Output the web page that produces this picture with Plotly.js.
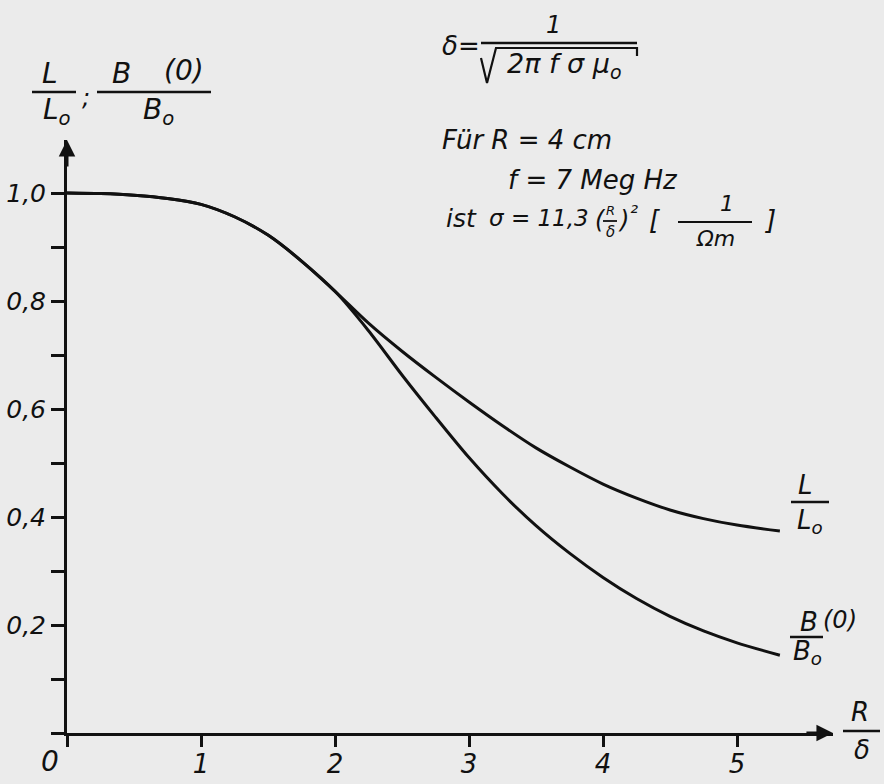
<!DOCTYPE html>
<html><head><meta charset="utf-8">
<script src="https://cdn.plot.ly/plotly-3.0.1.min.js"></script>
<style>html,body{margin:0;padding:0;background:#ebebeb;}</style>
</head><body>
<div id="chart" style="width:884px;height:784px;"></div>
<script>
// ---- data ----
const ratio = [0, 0.25, 0.5, 0.75, 1.0, 1.25, 1.5, 1.75, 2.0, 2.25, 2.5, 2.75, 3.0, 3.25, 3.5, 3.75, 4.0, 4.25, 4.5, 4.75, 5.0, 5.32];
const lRatio = [1.000, 0.999, 0.996, 0.990, 0.979, 0.956, 0.922, 0.874, 0.818, 0.759, 0.707, 0.659, 0.613, 0.569, 0.528, 0.493, 0.461, 0.435, 0.413, 0.397, 0.385, 0.374];
const bRatio = [1.000, 0.999, 0.996, 0.990, 0.979, 0.956, 0.922, 0.874, 0.818, 0.745, 0.663, 0.585, 0.510, 0.443, 0.384, 0.333, 0.288, 0.249, 0.216, 0.189, 0.167, 0.144];
const xTickVals = [0, 1, 2, 3, 4, 5];
const xTickText = ['', '1', '2', '3', '4', '5'];
const yTickVals = [0, 0.2, 0.4, 0.6, 0.8, 1.0];
const yTickText = ['', '0,2', '0,4', '0,6', '0,8', '1,0'];

// ---- layout helpers ----
const W = 884, H = 784, PL = 67, PR = 833, PT = 140, PB = 733;
const fx = x => (x - PL) / (PR - PL);
const fy = y => (PB - y) / (PB - PT);
const FONT = 'DejaVu Sans';
const INK = '#111111';
function txt(t, x, y, size, anchor) {
  return {text: t, x: fx(x), y: fy(y), xref: 'paper', yref: 'paper', showarrow: false,
    xanchor: anchor || 'center', yanchor: 'middle',
    font: {family: FONT, size: size || 26, color: INK, style: 'italic'}};
}
function bar(x0, x1, y, w) {
  return {type: 'line', xref: 'paper', yref: 'paper', x0: fx(x0), x1: fx(x1), y0: fy(y), y1: fy(y),
    line: {color: INK, width: w || 2.5}};
}

const common = {mode: 'lines', line: {color: INK, width: 3, shape: 'spline', smoothing: 0.8}, hoverinfo: 'skip', showlegend: false};
const traces = [
  Object.assign({x: ratio, y: lRatio, name: 'L/L0'}, common),
  Object.assign({x: ratio, y: bRatio, name: 'B(0)/B0'}, common)
];

const annotations = [
  // y-axis title
  txt('L', 50, 74, 28), txt('L<sub>o</sub>', 57, 112, 28), txt(';', 86, 98, 24),
  txt('B', 121, 74, 28), txt('(0)', 184, 70, 28), txt('B<sub>o</sub>', 158, 112, 28),
  // formula
  txt('δ=', 461, 46, 26), txt('1', 553, 25, 24), txt('2π f σ μ<sub>o</sub>', 564, 66, 27),
  txt('Für R = 4 cm', 440, 140, 26, 'left'),
  txt('f = 7 Meg Hz', 506, 180, 26, 'left'),
  txt('ist', 444, 218, 25, 'left'),
  txt('σ = 11,3', 487, 218, 23, 'left'),
  txt('(', 600, 220, 24),
  txt('R', 610, 210, 13), txt('δ', 610, 232, 15),
  txt(')', 623, 220, 24), txt('²', 634, 213, 20),
  txt('[', 654, 220, 26), txt('1', 727, 203, 22), txt('Ωm', 715, 239, 22), txt(']', 770, 220, 26),
  // curve labels
  txt('L', 805, 485, 26), txt('L<sub>o</sub>', 810, 521, 26),
  txt('B', 809, 622, 26), txt('(0)', 840, 620, 24), txt('B<sub>o</sub>', 807, 652, 26),
  // x-axis label
  txt('R', 860, 712, 26), txt('δ', 862, 750, 26),
  // origin
  txt('0', 50, 761, 28),
  // axis arrows
  {x: 5.716, y: 0, ax: -28, ay: 0, xref: 'x', yref: 'y', text: '', showarrow: true,
   arrowhead: 2, arrowsize: 1.1, arrowwidth: 3, arrowcolor: INK},
  {x: 0, y: 1.098, ax: 0, ay: 28, xref: 'x', yref: 'y', text: '', showarrow: true,
   arrowhead: 2, arrowsize: 1.1, arrowwidth: 3, arrowcolor: INK}
];

const shapes = [
  bar(32, 76, 92), bar(97, 211, 92),
  bar(481, 637, 43),
  {type: 'path', xref: 'paper', yref: 'paper',
   path: `M ${fx(481)} ${fy(58)} L ${fx(487)} ${fy(83)} L ${fx(496)} ${fy(48)} L ${fx(637)} ${fy(48)} L ${fx(637)} ${fy(56)}`,
   line: {color: INK, width: 2.2}},
  bar(603, 617, 221, 1.8), bar(678, 752, 222, 2.2),
  bar(791, 829, 502), bar(790, 823, 637),
  bar(843, 880, 731)
];

const layout = {
  width: W, height: H,
  margin: {l: PL, r: W - PR, t: PT, b: H - PB, pad: 0},
  paper_bgcolor: '#ebebeb', plot_bgcolor: '#ebebeb',
  xaxis: {range: [0, (PR - PL) / 134], showgrid: false, zeroline: false, showline: true,
    linecolor: INK, linewidth: 3, ticks: 'outside', ticklen: 11, tickwidth: 3, tickcolor: INK,
    tickvals: xTickVals, ticktext: xTickText, ticklabelstandoff: -5,
    tickfont: {family: FONT, size: 26, color: INK, style: 'italic'}, fixedrange: true},
  yaxis: {range: [0, (PB - PT) / 540], showgrid: false, zeroline: false, showline: true,
    linecolor: INK, linewidth: 3, ticks: 'outside', ticklen: 13, tickwidth: 3, tickcolor: INK,
    tickvals: yTickVals, ticktext: yTickText,
    minor: {tickvals: [0.1, 0.3, 0.5, 0.7, 0.9], ticks: 'outside', ticklen: 13, tickwidth: 3, tickcolor: INK},
    tickfont: {family: FONT, size: 25, color: INK, style: 'italic'}, fixedrange: true},
  annotations: annotations,
  shapes: shapes,
  showlegend: false
};
Plotly.newPlot('chart', traces, layout, {displayModeBar: false, staticPlot: true});
</script>
</body></html>
